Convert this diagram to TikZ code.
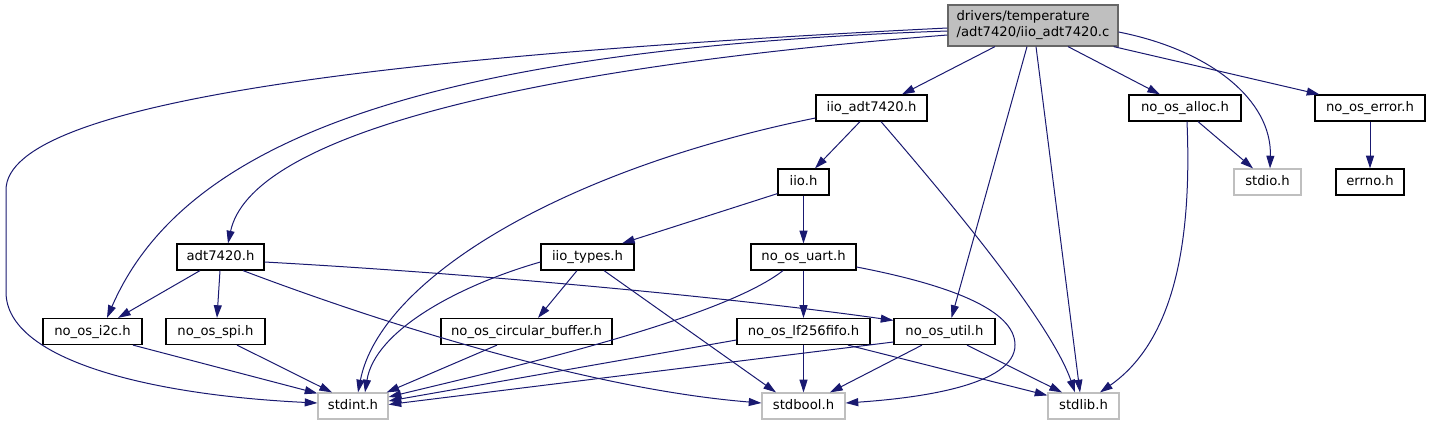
\documentclass[tikz,border=0pt]{standalone}
\usepackage{fontspec}
\usepackage{xcolor}
\usepackage{tikz}
\usetikzlibrary{arrows.meta,calc}
\newfontfamily\graphfont{DejaVu Sans}
\definecolor{edgeBlue}{HTML}{191970}
\definecolor{rootFill}{HTML}{BFBFBF}
\definecolor{rootLine}{HTML}{666666}
\definecolor{leafLine}{HTML}{BFBFBF}

\begin{document}
\begin{tikzpicture}[
  x=0.75pt, y=-0.75pt,
  box/.style={rectangle, line width=0.9pt, inner sep=2pt, font=\graphfont\fontsize{9.9}{12}\selectfont},
  hdr/.style={box, draw=black, fill=white, minimum height=19.5pt, text height=7.5pt, text depth=2.2pt},
  leaf/.style={hdr, draw=leafLine},
  mainfile/.style={box, draw=rootLine, fill=rootFill, minimum height=30.75pt, align=left},
  incl/.style={-{Triangle[length=9.5pt,width=6pt]}, draw=edgeBlue, line width=0.75pt}
]
\useasboundingbox (0,0) rectangle (1430,425);
\node[mainfile, minimum width=127.5pt] (root) at (1033,25.5) {drivers/temperature\\/adt7420/iio\_adt7420.c};
\node[hdr, minimum width=83.25pt] (iioadt) at (871.5,108) {iio\_adt7420.h};
\node[hdr, minimum width=84pt] (alloc) at (1185,108) {no\_os\_alloc.h};
\node[hdr, minimum width=82.5pt] (error) at (1370,108) {no\_os\_error.h};
\node[hdr, minimum width=38.25pt] (iio) at (803.5,182) {iio.h};
\node[leaf, minimum width=50.25pt] (stdio) at (1267.5,182) {stdio.h};
\node[hdr, minimum width=51pt] (errno) at (1370,182) {errno.h};
\node[hdr, minimum width=65.25pt] (adt) at (220.5,257) {adt7420.h};
\node[hdr, minimum width=69.75pt] (types) at (587.5,257) {iio\_types.h};
\node[hdr, minimum width=78.75pt] (uart) at (803.5,257) {no\_os\_uart.h};
\node[hdr, minimum width=74.25pt] (i2c) at (92.5,331.5) {no\_os\_i2c.h};
\node[hdr, minimum width=74.25pt] (spi) at (215.5,331.5) {no\_os\_spi.h};
\node[hdr, minimum width=128.25pt] (circbuf) at (526.5,331.5) {no\_os\_circular\_buffer.h};
\node[hdr, minimum width=99.75pt] (fifo) at (803.5,331.5) {no\_os\_lf256fifo.h};
\node[hdr, minimum width=75.75pt] (util) at (944.5,331.5) {no\_os\_util.h};
\node[leaf, minimum width=52.5pt] (stdint) at (353,406) {stdint.h};
\node[leaf, minimum width=62.25pt] (stdbool) at (803.5,406) {stdbool.h};
\node[leaf, minimum width=53.25pt] (stdlib) at (1083.5,406) {stdlib.h};
\draw[incl] ($(root.west)+(0,2.5)$) .. controls (400,55) and (6,100) .. (6,190) -- (6,292) .. controls (6,360) and (150,395) .. ($(stdint.west)+(0,-3)$);
\draw[incl] ($(root.west)+(0,5.5)$) .. controls (400,50) and (180,150) .. ($(i2c.north)+(14.5,0)$);
\draw[incl] ($(root.west)+(0,9.5)$) .. controls (500,70) and (250,140) .. ($(adt.north)+(7.5,0)$);
\draw[incl] ($(root.south)+(-38,0)$) -- ($(iioadt.north)+(30.5,0)$);
\draw[incl] ($(root.south)+(-6,0)$) -- ($(util.north)+(7,0)$);
\draw[incl] ($(root.south)+(3,0)$) -- ($(stdlib.north)+(-3.5,0)$);
\draw[incl] ($(root.south)+(35,0)$) -- ($(alloc.north)+(-25,0)$);
\draw[incl] ($(root.east)+(0,6.5)$) .. controls (1210,50) and (1272,100) .. ($(stdio.north)+(2.5,0)$);
\draw[incl] ($(root.south east)+(-5,0)$) -- ($(error.north west)+(5,0)$);
\draw[incl] ($(iioadt.west)+(0,10)$) .. controls (560,170) and (380,280) .. ($(stdint.north)+(5,0)$);
\draw[incl] ($(iioadt.south)+(-11.5,0)$) -- ($(iio.north)+(11.5,0)$);
\draw[incl] ($(iioadt.south)+(9.5,0)$) .. controls (940,190) and (1050,320) .. ($(stdlib.north)+(-8.5,0)$);
\draw[incl] ($(iio.south west)+(0,-2)$) -- ($(types.north)+(34.5,0)$);
\draw[incl] (iio) -- (uart);
\draw[incl] ($(alloc.south)+(13,0)$) -- ($(stdio.north)+(-14.5,0)$);
\draw[incl] ($(alloc.south)+(2,0)$) .. controls (1192,240) and (1175,340) .. ($(stdlib.north)+(16.5,0)$);
\draw[incl] (error) -- (errno);
\draw[incl] ($(adt.south)+(-20.5,0)$) -- ($(i2c.north)+(25.5,0)$);
\draw[incl] ($(adt.south)+(-0.5,0)$) -- ($(spi.north)+(1.5,0)$);
\draw[incl] ($(adt.south)+(22.5,0)$) .. controls (400,330) and (600,390) .. ($(stdbool.west)+(0,-3)$);
\draw[incl] ($(adt.east)+(0,5)$) .. controls (500,275) and (750,300) .. ($(util.north west)+(0,2.5)$);
\draw[incl] ($(types.west)+(0,5)$) .. controls (460,285) and (375,330) .. ($(stdint.north)+(12,0)$);
\draw[incl] ($(types.south)+(-10.5,0)$) -- ($(circbuf.north)+(11.5,0)$);
\draw[incl] ($(types.south)+(16.5,0)$) -- ($(stdbool.north)+(-27.5,0)$);
\draw[incl] ($(uart.south)+(-20.5,0)$) .. controls (720,320) and (500,370) .. ($(stdint.east)+(0,-9)$);
\draw[incl] (uart) -- (fifo);
\draw[incl] ($(uart.east)+(0,10)$) .. controls (950,285) and (1015,310) .. (1015,345) .. controls (1015,385) and (920,398) .. ($(stdbool.east)+(0,-3)$);
\draw[incl] ($(i2c.south)+(40.5,0)$) -- ($(stdint.north west)+(0,1)$);
\draw[incl] ($(spi.south)+(21.5,0)$) -- ($(stdint.north)+(-21,0)$);
\draw[incl] ($(circbuf.south)+(-29.5,0)$) -- ($(stdint.north east)+(-2,0)$);
\draw[incl] ($(fifo.west)+(0,8.5)$) -- ($(stdint.east)+(0,-5)$);
\draw[incl] (fifo) -- (stdbool);
\draw[incl] ($(fifo.south)+(44.5,0)$) -- ($(stdlib.north west)+(0,3)$);
\draw[incl] ($(util.west)+(0,10.5)$) -- ($(stdint.east)+(0,-1.5)$);
\draw[incl] ($(util.south)+(-22.5,0)$) -- ($(stdbool.north)+(26.5,0)$);
\draw[incl] ($(util.south)+(22.5,0)$) -- ($(stdlib.north)+(-21.5,0)$);
\end{tikzpicture}
\end{document}
